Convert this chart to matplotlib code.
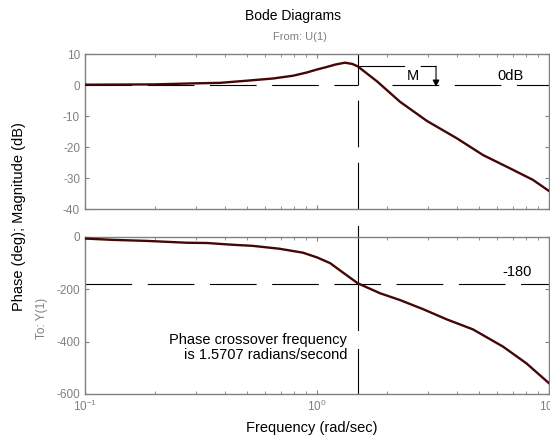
import matplotlib
matplotlib.use("Agg")
import matplotlib.pyplot as plt
import numpy as np

plt.rcParams['font.family'] = ['Liberation Sans', 'DejaVu Sans']
plt.rcParams['axes.unicode_minus'] = False

# values
freq_mag = [0.1, 0.2, 0.284, 0.382, 0.50, 0.646, 0.789, 0.90, 1.0, 1.1, 1.2, 1.32, 1.42, 1.50,
            1.82, 2.28, 2.98, 4.01, 5.2, 6.8, 8.53, 10.1]
mag_db = [0.1, 0.2, 0.5, 0.7, 1.4, 2.1, 3.0, 4.0, 5.0, 5.8, 6.6, 7.2, 6.8, 6.0,
          1.1, -5.4, -11.6, -17.2, -22.6, -26.9, -30.6, -34.4]

freq_ph = [0.1, 0.132, 0.185, 0.275, 0.336, 0.42, 0.53, 0.69, 0.87, 1.0, 1.14,
           1.29, 1.50, 1.87, 2.28, 2.87, 3.63, 4.7, 6.34, 8.0, 10.1]
phase_deg = [-6, -11, -15, -22, -23, -29, -34, -45, -60, -78, -100,
             -135, -177, -215, -241, -276, -315, -353, -419, -483, -562]

w_cross = 1.5      # where the vertical marker sits in the picture
m_level = 6.0      # magnitude at the crossover
w_arrow = 3.26
mag_ticks = [10, 0, -10, -20, -30, -40]
phase_ticks = [0, -200, -400, -600]

curve_col = '#440606'
grey = '#808080'

fig = plt.figure(figsize=(5.5, 4.37), dpi=100)
ax1 = fig.add_axes([0.1545, 0.5217, 0.8436, 0.3547])
ax2 = fig.add_axes([0.1545, 0.0984, 0.8436, 0.3593])

for ax in (ax1, ax2):
    ax.set_xscale('log')
    ax.set_xlim(0.1, 10)
    for s in ax.spines.values():
        s.set_color(grey)
        s.set_linewidth(1.0)
    ax.tick_params(which='both', direction='in', top=True, right=True,
                   colors=grey, labelsize=8.5, length=3)
    ax.tick_params(which='minor', length=2)

ax1.set_ylim(-40, 10)
ax1.set_yticks(mag_ticks)
ax1.tick_params(which='both', labelbottom=False)
ax2.set_ylim(-600, 0)
ax2.set_yticks(phase_ticks)

dash = (0, (42, 14))

# magnitude panel
ax1.plot(freq_mag, mag_db, color=curve_col, lw=1.7, zorder=3)
ax1.plot([0.1, w_cross], [0, 0], color='k', lw=0.8, ls=dash)
ax1.plot([2.1, 10], [0, 0], color='k', lw=0.8, ls=dash)
ax1.plot([w_cross, w_cross], [-40, 10], color='k', lw=0.8, ls=dash)
ax1.plot([w_cross, w_arrow], [m_level, m_level], color='k', lw=0.8, ls=dash)
ax1.annotate('', xy=(w_arrow, -0.6), xytext=(w_arrow, m_level),
             arrowprops=dict(arrowstyle='-|>', color='k', lw=0.8, mutation_scale=10,
                             shrinkA=0, shrinkB=0))
ax1.text(2.6, 2.9, 'M', ha='center', va='center', fontsize=10.5)
ax1.text(6.8, 2.9, '0dB', ha='center', va='center', fontsize=10.5)

# phase panel
ax2.plot(freq_ph, phase_deg, color=curve_col, lw=1.7, zorder=3)
ax2.plot([0.1, 10], [-180, -180], color='k', lw=0.8, ls=dash)
ax2.plot([w_cross, w_cross], [-600, -428], color='k', lw=0.8)
ax2.plot([w_cross, w_cross], [-355, 42], color='k', lw=0.8, clip_on=False)
ax2.text(7.3, -134, '-180', ha='center', va='center', fontsize=10.5)
ax2.text(1.35, -424, 'Phase crossover frequency\nis 1.5707 radians/second',
         ha='right', va='center', fontsize=10.5, linespacing=1.1)

fig.text(0.532, 0.963, 'Bode Diagrams', ha='center', va='center', fontsize=10)
fig.text(0.545, 0.915, 'From: U(1)', ha='center', va='center', fontsize=8, color=grey)
fig.text(0.034, 0.505, 'Phase (deg); Magnitude (dB)', rotation=90, ha='center', va='center', fontsize=10.5)
fig.text(0.077, 0.272, 'To: Y(1)', rotation=90, ha='center', va='center', fontsize=8.5, color=grey)
fig.text(0.566, 0.0206, 'Frequency (rad/sec)', ha='center', va='center', fontsize=10.5)

fig.savefig('out.png', dpi=100)
